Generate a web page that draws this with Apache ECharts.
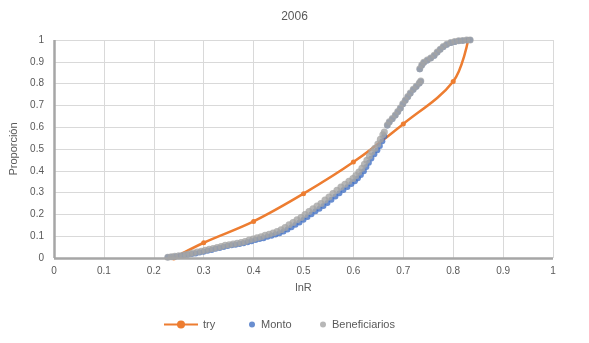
<!DOCTYPE html>
<html><head><meta charset="utf-8">
<script src="https://cdn.jsdelivr.net/npm/echarts@6/dist/echarts.min.js"></script>
<style>html,body{margin:0;padding:0;background:#fff}#c{width:589px;height:343px}</style>
</head><body><div id="c"></div>
<script>
var title = '2006';
var xTicks = [0,0.1,0.2,0.3,0.4,0.5,0.6,0.7,0.8,0.9,1];
var tryX = [0.24,0.30,0.40,0.50,0.60,0.70,0.80,0.83];
var tryY = [0.0,0.07,0.168,0.295,0.44,0.615,0.81,1.0];
var benefX = [0.228,0.235,0.242,0.25,0.258,0.265,0.272,0.279,0.287,0.295,0.303,0.311,0.319,0.327,0.335,0.343,0.351,0.359,0.367,0.375,0.383,0.391,0.399,0.407,0.415,0.423,0.431,0.439,0.447,0.455,0.463,0.471,0.479,0.487,0.495,0.503,0.511,0.519,0.527,0.535,0.543,0.551,0.559,0.567,0.575,0.583,0.591,0.599,0.605,0.611,0.617,0.622,0.627,0.632,0.637,0.643,0.649,0.654,0.659,0.662,0.668,0.672,0.678,0.684,0.689,0.694,0.699,0.704,0.709,0.714,0.720,0.726,0.732,0.735,0.733,0.737,0.741,0.748,0.755,0.762,0.768,0.774,0.780,0.787,0.795,0.803,0.811,0.819,0.827,0.834];
var benefY = [0.004,0.006,0.008,0.010,0.013,0.016,0.019,0.023,0.027,0.031,0.035,0.040,0.044,0.048,0.053,0.058,0.061,0.064,0.068,0.071,0.076,0.082,0.087,0.093,0.098,0.104,0.109,0.115,0.121,0.130,0.140,0.152,0.163,0.175,0.186,0.200,0.213,0.226,0.238,0.250,0.266,0.280,0.296,0.311,0.326,0.338,0.352,0.365,0.378,0.394,0.412,0.430,0.448,0.468,0.487,0.503,0.523,0.545,0.565,0.578,0.610,0.625,0.640,0.656,0.672,0.688,0.707,0.724,0.741,0.757,0.774,0.788,0.803,0.812,0.868,0.885,0.898,0.908,0.918,0.930,0.945,0.958,0.970,0.980,0.988,0.993,0.996,0.998,1.000,1.000];
var montoX = [0.228,0.236,0.244,0.252,0.260,0.268,0.276,0.284,0.292,0.300,0.308,0.316,0.324,0.332,0.340,0.348,0.356,0.364,0.372,0.380,0.388,0.396,0.404,0.412,0.420,0.428,0.436,0.444,0.452,0.460,0.468,0.476,0.484,0.492,0.500,0.508,0.516,0.524,0.532,0.540,0.548,0.556,0.564,0.572,0.580,0.588,0.596,0.603,0.609,0.615,0.621,0.626,0.631,0.636,0.642,0.648,0.653,0.658,0.662,0.668,0.672,0.678,0.684,0.689,0.694,0.699,0.704,0.709,0.714,0.720,0.726,0.732,0.735,0.733,0.737,0.741,0.748,0.755,0.762,0.768,0.774,0.780,0.787,0.795,0.803,0.811,0.819,0.827,0.834];
var montoY = [0.003,0.005,0.007,0.009,0.012,0.015,0.018,0.021,0.025,0.029,0.033,0.037,0.042,0.046,0.050,0.055,0.058,0.061,0.064,0.068,0.072,0.077,0.082,0.087,0.091,0.097,0.102,0.108,0.114,0.122,0.131,0.141,0.152,0.163,0.175,0.188,0.201,0.214,0.226,0.238,0.252,0.267,0.282,0.297,0.312,0.326,0.339,0.352,0.366,0.381,0.398,0.418,0.437,0.456,0.476,0.494,0.514,0.536,0.558,0.608,0.623,0.638,0.654,0.670,0.686,0.705,0.722,0.739,0.755,0.772,0.786,0.801,0.810,0.866,0.883,0.896,0.906,0.916,0.928,0.943,0.956,0.968,0.978,0.986,0.991,0.995,0.997,0.999,1.000];

function zip(a,b){return a.map(function(v,i){return [v,b[i]];});}
var txt = '#595959';
var font = 'Liberation Sans, Arial, sans-serif';
var chart = echarts.init(document.getElementById('c'));
chart.setOption({
  animation:false,
  title:{text:title,left:'center',top:6,textStyle:{fontSize:12,fontWeight:'normal',color:txt,fontFamily:font}},
  grid:{left:54,right:36,top:40,bottom:85},
  legend:[
    {data:['try'],left:158,top:314,itemWidth:34,itemHeight:10,itemGap:4,textStyle:{fontSize:11,color:txt,fontFamily:font}},
    {data:['Monto'],left:244,top:314,itemWidth:8,itemHeight:6,itemGap:4,icon:'circle',textStyle:{fontSize:11,color:txt,fontFamily:font}},
    {data:['Beneficiarios'],left:315,top:314,itemWidth:8,itemHeight:6,itemGap:4,icon:'circle',textStyle:{fontSize:11,color:txt,fontFamily:font}}
  ],
  xAxis:{type:'value',min:0,max:1,interval:0.1,name:'lnR',nameLocation:'middle',nameGap:24,
    nameTextStyle:{fontSize:11,color:txt,fontFamily:font},
    axisLine:{show:false},axisTick:{show:false},
    axisLabel:{fontSize:10,color:txt,fontFamily:font,margin:8,formatter:function(v){return String(Math.round(v*10)/10);}},
    splitLine:{show:true,lineStyle:{color:'#d9d9d9',width:1}}},
  yAxis:{type:'value',min:0,max:1,interval:0.1,name:'Proporción',nameLocation:'middle',nameGap:30,
    nameTextStyle:{fontSize:11,color:txt,fontFamily:font},
    axisLine:{show:false},axisTick:{show:false},
    axisLabel:{fontSize:10,color:txt,fontFamily:font,margin:10,formatter:function(v){return String(Math.round(v*10)/10);}},
    splitLine:{show:true,lineStyle:{color:'#d9d9d9',width:1}}},
  series:[
    {name:'axes',type:'line',silent:true,data:[],
      markLine:{silent:true,symbol:'none',label:{show:false},lineStyle:{color:'#a6a6a6',width:2.5,type:'solid'},
        data:[[{coord:[0,0]},{coord:[1,0]}],[{coord:[0,0]},{coord:[0,1]}]]}},
    {name:'try',type:'line',data:zip(tryX,tryY),smooth:0.35,symbol:'circle',symbolSize:5,
      itemStyle:{color:'#ED7D31'},lineStyle:{color:'#ED7D31',width:2.5},z:3},
    {name:'Monto',type:'scatter',data:zip(montoX,montoY),symbolSize:6,itemStyle:{color:'#4472C4'},z:4},
    {name:'Beneficiarios',type:'scatter',data:zip(benefX,benefY),symbolSize:7,itemStyle:{color:'#A5A5A5'},z:5}
  ]
});
</script></body></html>
